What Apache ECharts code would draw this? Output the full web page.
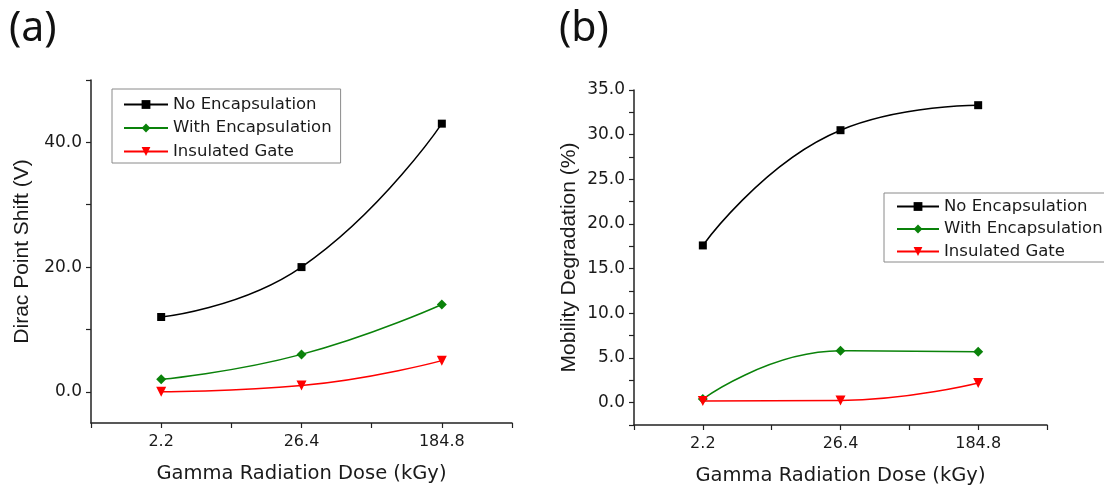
<!DOCTYPE html>
<html>
<head>
<meta charset="utf-8">
<script src="https://cdn.jsdelivr.net/npm/echarts@6/dist/echarts.min.js"></script>
<style>html,body{margin:0;padding:0;background:#fff}#c{width:1104px;height:493px}</style>
</head>
<body>
<div id="c"></div>
<script>
// ---- data ----
var doses = ['2.2', '26.4', '184.8'];
var seriesNames = ['No Encapsulation', 'With Encapsulation', 'Insulated Gate'];
// (a) Dirac point shift (V)
var diracNoEnc = [12.0, 20.0, 43.0];
var diracWithEnc = [2.0, 6.0, 14.0];
var diracInsGate = [0.0, 1.0, 5.0];
// (b) Mobility degradation (%)
var mobNoEnc = [17.6, 30.5, 33.3];
var mobWithEnc = [0.4, 5.8, 5.7];
var mobInsGate = [0.2, 0.25, 2.2];
// tick values
var aTicks = [0, 10, 20, 30, 40, 50];
var aLabels = [0, 20, 40];
var bTicks = [-2.5, 0, 2.5, 5, 7.5, 10, 12.5, 15, 17.5, 20, 22.5, 25, 27.5, 30, 32.5, 35];
var bLabels = [0, 5, 10, 15, 20, 25, 30, 35];
var xTicks = [0.5, 1, 1.5, 2, 2.5, 3, 3.5];
var xLabels = [1, 2, 3];

function pts(arr) { return arr.map(function (v, i) { return [i + 1, v]; }); }

var colors = ['#000000', '#0a820a', '#ff0000'];
var symbols = ['rect', 'diamond', 'triangle'];
var symSizes = [8, 10, 10];
var symRot = [0, 0, 180];
var txt = '#1a1a1a';
var tickFont = 'DejaVu Sans';

function xAxis(gi) {
  return {
    type: 'value', gridIndex: gi, min: 0.5, max: 3.5,
    name: 'Gamma Radiation Dose (kGy)', nameLocation: 'middle', nameGap: 41,
    nameTextStyle: { fontFamily: tickFont, fontSize: 19.5, color: txt },
    axisLine: { show: true, onZero: false, lineStyle: { color: '#222', width: 1.5 } },
    axisTick: { show: true, inside: false, length: 5, customValues: xTicks, lineStyle: { color: '#222', width: 1.2 } },
    axisLabel: { customValues: xLabels, margin: 11, fontFamily: tickFont, fontSize: 16, color: txt,
      formatter: function (v) { return doses[Math.round(v) - 1]; } },
    splitLine: { show: false }
  };
}
function yAxis(gi, min, max, ticks, labels, name, gap) {
  return {
    type: 'value', gridIndex: gi, min: min, max: max,
    name: name, nameLocation: 'middle', nameRotate: 90, nameGap: gap,
    nameTextStyle: { fontFamily: 'Liberation Sans', fontSize: 21, color: txt },
    axisLine: { show: true, onZero: false, lineStyle: { color: '#222', width: 1.5 } },
    axisTick: { show: true, inside: false, length: 5, customValues: ticks, lineStyle: { color: '#222', width: 1.2 } },
    axisLabel: { customValues: labels, margin: 9, fontFamily: tickFont, fontSize: 17, color: txt,
      formatter: function (v) { return v.toFixed(1); } },
    splitLine: { show: false }
  };
}
function mkSeries(gi, arrs) {
  return arrs.map(function (arr, k) {
    return {
      type: 'line', name: seriesNames[k], xAxisIndex: gi, yAxisIndex: gi,
      data: pts(arr), smooth: 0.5,
      symbol: symbols[k], symbolSize: symSizes[k], symbolRotate: symRot[k], showAllSymbol: true,
      lineStyle: { color: colors[k], width: 1.5 },
      itemStyle: { color: colors[k] },
      emphasis: { disabled: true }, z: 3 + k
    };
  });
}
function legend(left, top, padding, itemWidth, gap) {
  return {
    data: seriesNames, orient: 'vertical', left: left, top: top, padding: padding,
    itemWidth: itemWidth, itemHeight: 11, itemGap: gap,
    borderColor: '#8a8a8a', borderWidth: 1, backgroundColor: '#fff',
    textStyle: { fontFamily: tickFont, fontSize: 16.5, color: txt },
    selectedMode: false
  };
}

var chart = echarts.init(document.getElementById('c'), null, { renderer: 'canvas' });
chart.setOption({
  animation: false,
  backgroundColor: '#fff',
  graphic: [
    { type: 'text', left: 9, top: 9, style: { text: '(a)', font: '41px "Noto Sans"', fill: '#111' } },
    { type: 'text', left: 559, top: 9, style: { text: '(b)', font: '41px "Noto Sans"', fill: '#111' } }
  ],
  grid: [
    { left: 91, top: 80, width: 421, height: 343, containLabel: false },
    { left: 634, top: 90, width: 413, height: 335, containLabel: false }
  ],
  xAxis: [xAxis(0), xAxis(1)],
  yAxis: [
    yAxis(0, -5, 50, aTicks, aLabels, 'Dirac Point Shift (V)', 58),
    yAxis(1, -2.5, 35, bTicks, bLabels, 'Mobility Degradation (%)', 54)
  ],
  legend: [
    legend(112, 89, [7, 9, 3, 11], 44, 6.5),
    legend(884, 193, [5, 10, 2, 12], 42, 5.5)
  ],
  series: mkSeries(0, [diracNoEnc, diracWithEnc, diracInsGate])
    .concat(mkSeries(1, [mobNoEnc, mobWithEnc, mobInsGate]))
});
</script>
</body>
</html>
